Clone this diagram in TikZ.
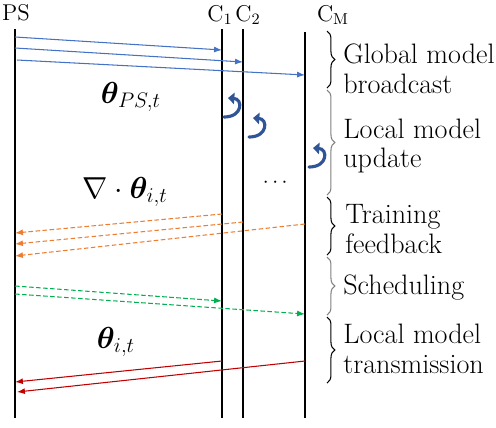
\documentclass[tikz,border=0pt]{standalone}
\usepackage{amsmath,amssymb}
\usepackage{bm}
\usepackage{tikz}
\usetikzlibrary{arrows.meta,positioning,decorations.pathreplacing}
\usepackage{xcolor}
\definecolor{bcastblue}{RGB}{68,114,196}
\definecolor{curlblue}{RGB}{47,85,151}
\definecolor{fbkorange}{RGB}{237,125,49}
\definecolor{schedgreen}{RGB}{0,176,80}
\definecolor{transred}{RGB}{192,0,0}
\definecolor{bracegray}{RGB}{128,128,128}

\begin{document}
\begin{tikzpicture}[
    x=0.02cm, y=-0.02cm,
    lifeline/.style={line width=1.2pt, draw=black},
    head/.style={font=\fontsize{13}{15}\selectfont, inner sep=0pt},
    phase/.style={anchor=west, align=left, inner sep=0pt, font=\fontsize{16}{17}\selectfont},
    mathlbl/.style={inner sep=0pt, font=\fontsize{16.5}{18}\selectfont},
    bcast/.style={-{Latex[length=4.5pt,width=3.4pt]}, line width=0.6pt, draw=bcastblue},
    feedback/.style={-{Latex[length=4.5pt,width=3.4pt]}, line width=0.6pt, draw=fbkorange, dash pattern=on 2.6pt off 1.4pt},
    sched/.style={-{Latex[length=4.5pt,width=3.4pt]}, line width=0.6pt, draw=schedgreen, dash pattern=on 2.6pt off 1.4pt},
    upload/.style={-{Latex[length=4.5pt,width=3.4pt]}, line width=0.6pt, draw=transred},
    curl/.style={-{Triangle[length=3.6pt,width=6.5pt]}, line width=1.8pt, draw=curlblue, line cap=round},
    phasebrace/.style={decorate, decoration={brace, amplitude=4.5pt}, line width=0.6pt}
]
\useasboundingbox (0,0) rectangle (496,427);

% Lifelines
\node[head] (ps) at (16,13) {PS};
\node[head] (c1) at (220,15) {C$_1$};
\node[head] (c2) at (248,15) {C$_2$};
\node[head] (cm) at (333,15) {C$_\mathrm{M}$};
\coordinate (psTop) at (15,29);  \coordinate (psBot) at (15,418);
\coordinate (c1Top) at (222,29); \coordinate (c1Bot) at (222,418);
\coordinate (c2Top) at (243,29); \coordinate (c2Bot) at (243,418);
\coordinate (cmTop) at (305,32); \coordinate (cmBot) at (305,418);
\draw[lifeline] (psTop) -- (psBot);
\draw[lifeline] (c1Top) -- (c1Bot);
\draw[lifeline] (c2Top) -- (c2Bot);
\draw[lifeline] (cmTop) -- (cmBot);

% Global model broadcast
\coordinate (bA) at (15,37);  \coordinate (bA') at (222,50);
\coordinate (bB) at (15,48);  \coordinate (bB') at (243,62);
\coordinate (bC) at (17,60);  \coordinate (bC') at (305,75);
\draw[bcast] (bA) -- (bA');
\draw[bcast] (bB) -- (bB');
\draw[bcast] (bC) -- (bC');
\node[mathlbl] (thetaPS) at (131,97) {$\bm{\theta}_{PS,t}$};

% Local model update
\coordinate (uA) at (224,117); \coordinate (uA') at (228,98);
\coordinate (uB) at (249,137); \coordinate (uB') at (253,118);
\coordinate (uC) at (309,167); \coordinate (uC') at (313,148);
\draw[curl] (uA) .. controls (243,117) and (243,99) .. (uA');
\draw[curl] (uB) .. controls (268,137) and (268,119) .. (uB');
\draw[curl] (uC) .. controls (328,167) and (328,149) .. (uC');
\node[font=\fontsize{13}{15}\selectfont, inner sep=0pt] (dots) at (277,183) {$\cdots$};

% Training feedback
\coordinate (fA) at (222,214); \coordinate (fA') at (15,233);
\coordinate (fB) at (243,222); \coordinate (fB') at (15,244);
\coordinate (fC) at (305,224); \coordinate (fC') at (15,256);
\draw[feedback] (fA) -- (fA');
\draw[feedback] (fB) -- (fB');
\draw[feedback] (fC) -- (fC');
\node[mathlbl] (gradTheta) at (125,192) {$\nabla\cdot\bm{\theta}_{i,t}$};

% Scheduling
\coordinate (sA) at (15,286); \coordinate (sA') at (222,301);
\coordinate (sB) at (15,294); \coordinate (sB') at (305,314);
\draw[sched] (sA) -- (sA');
\draw[sched] (sB) -- (sB');

% Local model transmission
\coordinate (tA) at (222,361); \coordinate (tA') at (15,382);
\coordinate (tB) at (305,361); \coordinate (tB') at (17,392);
\draw[upload] (tA) -- (tA');
\draw[upload] (tB) -- (tB');
\node[mathlbl] (thetaI) at (116,342) {$\bm{\theta}_{i,t}$};

% Phase braces and labels
\draw[phasebrace, draw=black]     (327,31)  -- (327,88);
\draw[phasebrace, draw=bracegray] (327,90)  -- (327,195);
\draw[phasebrace, draw=black]     (327,197) -- (327,255);
\draw[phasebrace, draw=bracegray] (327,257) -- (327,315);
\draw[phasebrace, draw=black]     (327,317) -- (327,383);
\node[phase] (lblBcast)  at (343,69)  {Global model\\broadcast};
\node[phase] (lblUpdate) at (343,146) {Local model\\update};
\node[phase] (lblFbk)    at (345,229) {Training\\feedback};
\node[phase] (lblSched)  at (343,288) {Scheduling};
\node[phase] (lblTrans)  at (343,349) {Local model\\transmission};

\end{tikzpicture}
\end{document}
